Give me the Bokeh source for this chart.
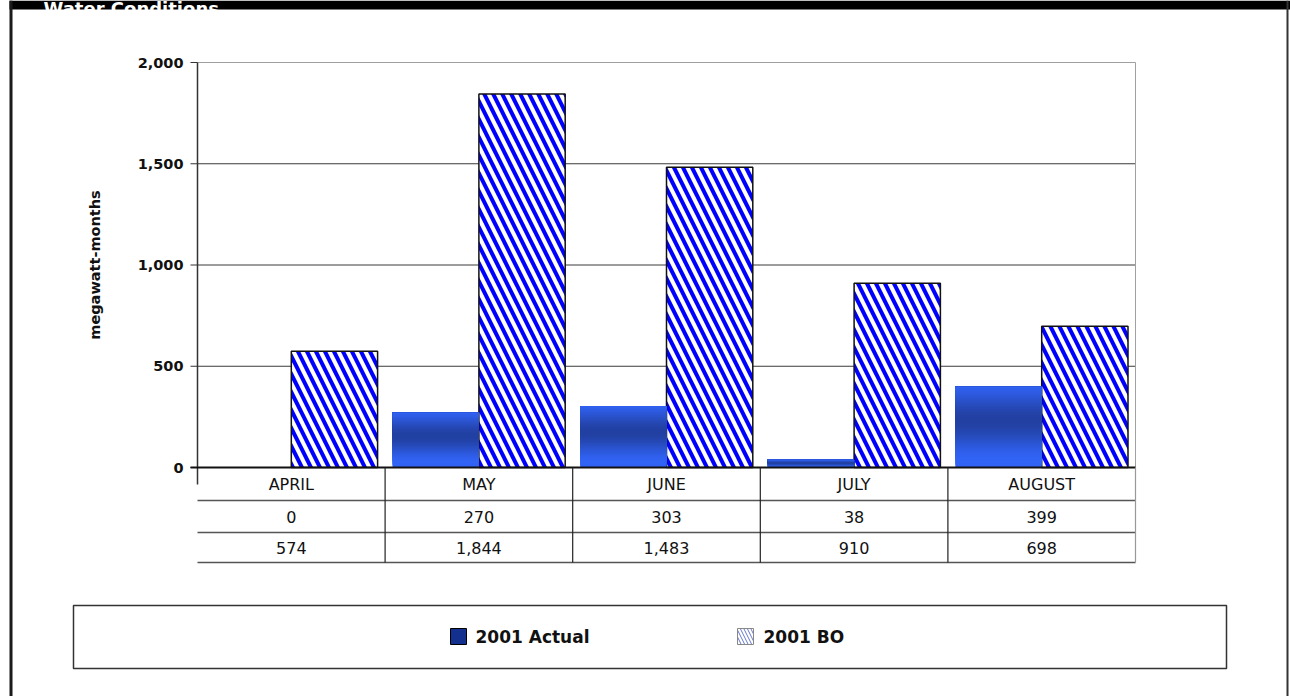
import math
import numpy as np
from bokeh.plotting import figure
from bokeh.models import Range1d, ColumnDataSource
from bokeh.core.properties import value
from bokeh.embed import file_html
from bokeh.resources import INLINE

# ---------------- data ----------------
MONTHS = ["APRIL", "MAY", "JUNE", "JULY", "AUGUST"]
ACTUAL_2001 = [0, 270, 303, 38, 399]
BO_2001 = [574, 1844, 1483, 910, 698]
Y_TICKS = [0, 500, 1000, 1500, 2000]
Y_TICK_LABELS = ["0", "500", "1,000", "1,500", "2,000"]
SERIES_NAMES = ["2001 Actual", "2001 BO"]
Y_TITLE = "megawatt-months"
HEADER = "Water Conditions."

# ---------------- layout (pixels) ----------------
W, H = 1290, 696
PL, PR, PT, PB = 197, 1135, 62, 467          # plot area
YMAX = 2000
n = len(MONTHS)
sy = (PB - PT) / YMAX
sx = (PR - PL) / n


def X(px):
    return (px - PL) / sx


def Y(py):
    return (PB - py) / sy


FONT = value("DejaVu Sans")

p = figure(width=W, height=H, title=None,
           x_range=Range1d(X(0), X(W)), y_range=Range1d(Y(H), Y(0)),
           output_backend="svg", toolbar_location=None,
           x_axis_type=None, y_axis_type=None, min_border=0,
           outline_line_color=None, background_fill_color="white",
           border_fill_color="white")

idx = np.arange(n)

# grid lines (behind bars)
p.segment(x0=[0] * 3, x1=[n] * 3, y0=Y_TICKS[1:4], y1=Y_TICKS[1:4],
          line_color="#3a3a3a", line_width=1)
p.segment(x0=[0], x1=[n], y0=[Y_TICKS[-1]], y1=[Y_TICKS[-1]],
          line_color="#a0a0a0", line_width=1)
p.segment(x0=[n], x1=[n], y0=[0], y1=[Y_TICKS[-1]],
          line_color="#a0a0a0", line_width=1)

# 2001 BO bars (hatched)
bo_src = ColumnDataSource(dict(left=idx + 0.5, right=idx + 0.96,
                               top=BO_2001, bottom=[0] * n))
p.quad(left="left", right="right", bottom="bottom", top="top", source=bo_src,
       fill_color="white", hatch_pattern="left_diagonal_line",
       hatch_color="#0000ff", hatch_weight=4, hatch_scale=18,
       line_color="#111111", line_width=1.5)

# 2001 Actual bars (vertical gradient built from overlapping layers)
NSTRIP = 40
light = np.array([0x31, 0x63, 0xf5])
dark = np.array([0x22, 0x40, 0xa2])
L, R, B, T, C = [], [], [], [], []
for i, v in enumerate(ACTUAL_2001):
    if v <= 0:
        continue
    for k in range(NSTRIP):
        f = 1 - (k + 0.5) / NSTRIP           # fraction from top
        d = min(1.0, abs(f - 0.42) / 0.5)
        d = d * d * (3 - 2 * d)
        c = dark + (light - dark) * d
        L.append(i + 0.04)
        R.append(i + 0.5)
        B.append(v * k / NSTRIP)
        T.append(v)
        C.append("#%02x%02x%02x" % tuple(int(round(x)) for x in c))
act_src = ColumnDataSource(dict(left=L, right=R, bottom=B, top=T, color=C))
p.quad(left="left", right="right", bottom="bottom", top="top", source=act_src,
       fill_color="color", line_color=None)

# axis line, ticks, zero line
p.segment(x0=[0], x1=[0], y0=[Y(484)], y1=[Y_TICKS[-1]],
          line_color="#333333", line_width=1.5)
p.segment(x0=[X(190)] * len(Y_TICKS), x1=[0] * len(Y_TICKS), y0=Y_TICKS, y1=Y_TICKS,
          line_color="#333333", line_width=1)
p.segment(x0=[X(190)], x1=[n], y0=[0], y1=[0], line_color="#111111", line_width=2)

# tick labels and axis title
p.text(x=[X(183)] * len(Y_TICKS), y=Y_TICKS, text=Y_TICK_LABELS,
       text_align="right", text_baseline="middle", text_font=FONT,
       text_font_style="bold", text_font_size="14.5px", text_color="#111111")
p.text(x=[X(94)], y=[YMAX / 2], text=[Y_TITLE], angle=math.pi / 2,
       text_align="center", text_baseline="middle", text_font=FONT,
       text_font_style="bold", text_font_size="14.5px", text_color="#111111")

# data table below the plot
rows_py = [500, 532, 562]
p.segment(x0=[0] * 3, x1=[n] * 3, y0=[Y(r) for r in rows_py], y1=[Y(r) for r in rows_py],
          line_color="#555555", line_width=1.5)
p.segment(x0=list(range(1, n)), x1=list(range(1, n)), y0=[0] * (n - 1),
          y1=[Y(rows_py[-1])] * (n - 1), line_color="#222222", line_width=1.2)
p.segment(x0=[n], x1=[n], y0=[0], y1=[Y(rows_py[-1])],
          line_color="#999999", line_width=1.2)
row_texts = [MONTHS, [f"{v:,}" for v in ACTUAL_2001], [f"{v:,}" for v in BO_2001]]
row_centers = [483.5, 516, 547]
for txt, cy in zip(row_texts, row_centers):
    p.text(x=idx + 0.5, y=[Y(cy)] * n, text=txt, text_align="center",
           text_baseline="middle", text_font=FONT, text_font_size="16px",
           text_color="#111111")

# outer frame and header band
p.quad(left=[X(9)], right=[X(W)], top=[Y(0)], bottom=[Y(9)],
       fill_color="#000000", line_color=None)
p.quad(left=[X(9)], right=[X(12)], top=[Y(0)], bottom=[Y(H)],
       fill_color="#1a1a1a", line_color=None)
p.quad(left=[X(1286)], right=[X(1288)], top=[Y(0)], bottom=[Y(H)],
       fill_color="#333333", line_color=None)
p.text(x=[X(43)], y=[Y(8)], text=[HEADER], text_align="left",
       text_baseline="alphabetic", text_font=FONT, text_font_style="bold",
       text_font_size="18px", text_color="white")

# legend box with its two entries
p.quad(left=[X(73)], right=[X(1226)], top=[Y(605)], bottom=[Y(668)],
       fill_color="white", line_color="#333333", line_width=1.5)
p.quad(left=[X(450)], right=[X(466)], top=[Y(628)], bottom=[Y(644)],
       fill_color="#14308f", line_color="#000000", line_width=1)
p.quad(left=[X(737)], right=[X(753)], top=[Y(628)], bottom=[Y(644)],
       fill_color="white", hatch_pattern="left_diagonal_line",
       hatch_color="#6677cc", hatch_weight=1, hatch_scale=7,
       line_color="#888888", line_width=1)
p.text(x=[X(475), X(763)], y=[Y(636)] * 2, text=SERIES_NAMES,
       text_align="left", text_baseline="middle", text_font=FONT,
       text_font_style="bold", text_font_size="17px", text_color="#111111")

open("out.html", "w").write(file_html(p, INLINE))
